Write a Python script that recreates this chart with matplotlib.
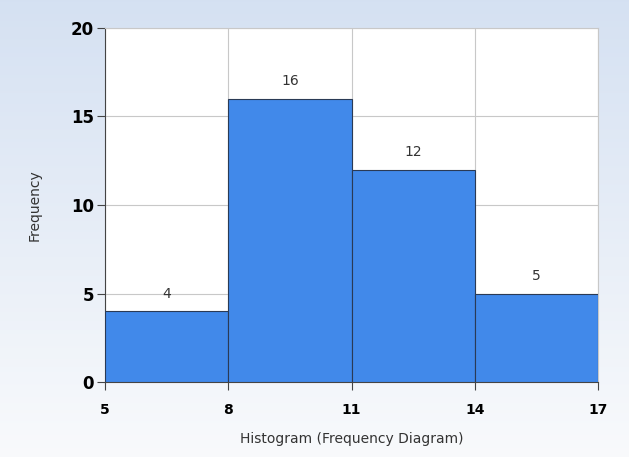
import numpy as np
import matplotlib.pyplot as plt

edges = [5, 8, 11, 14, 17]
counts = [4, 16, 12, 5]
yticks = [0, 5, 10, 15, 20]

fig = plt.figure(figsize=(6.29, 4.57), dpi=100)

# gradient background
bg = fig.add_axes([0, 0, 1, 1], zorder=-10)
top = np.array([0.835, 0.882, 0.949])
bot = np.array([0.975, 0.980, 0.988])
t = np.linspace(0, 1, 256)[:, None]
grad = (top * (1 - t) + bot * t)[:, None, :]
bg.imshow(grad, aspect='auto', extent=[0, 1, 0, 1])
bg.axis('off')

ax = fig.add_axes([0.167, 0.164, 0.784, 0.775])
ax.set_facecolor('white')
widths = np.diff(edges)
ax.bar(edges[:-1], counts, width=widths, align='edge', color='#4189ea',
       edgecolor='#2a3a55', linewidth=0.8, zorder=3)
for x0, w, c in zip(edges[:-1], widths, counts):
    ax.text(x0 + w / 2, c + 0.6, str(c), ha='center', va='bottom',
            fontsize=10, color='#333333', zorder=4)

ax.set_xlim(5, 17)
ax.set_ylim(0, 20)
ax.set_xticks(edges)
ax.set_yticks(yticks)
ax.grid(True, color='#c8c8c8', linewidth=0.8, zorder=0)
for lbl in ax.get_xticklabels() + ax.get_yticklabels():
    lbl.set_fontweight('bold')
ax.tick_params(axis='y', labelsize=12, length=6, color='#444444', pad=2)
ax.tick_params(axis='x', labelsize=10, length=6, color='#444444', pad=9)
for s in ['top', 'right']:
    ax.spines[s].set_color('#c8c8c8')
for s in ['left', 'bottom']:
    ax.spines[s].set_color('#444444')
ax.set_xlabel('Histogram (Frequency Diagram)', fontsize=10, color='#333333', labelpad=11)
ax.set_ylabel('Frequency', fontsize=10, color='#333333', labelpad=21)

fig.savefig('out.png', dpi=100)
